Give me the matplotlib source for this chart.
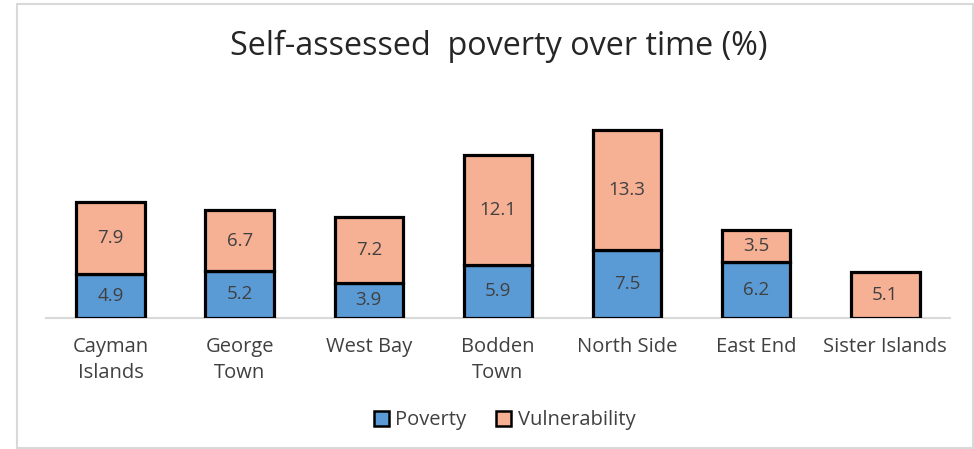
import matplotlib
matplotlib.use("Agg")
import matplotlib.pyplot as plt
from matplotlib.patches import Rectangle, Patch
import numpy as np

plt.rcParams['font.family'] = ['Open Sans', 'DejaVu Sans']

regions = ['Cayman\nIslands', 'George\nTown', 'West Bay', 'Bodden\nTown',
           'North Side', 'East End', 'Sister Islands']
poverty = [4.9, 5.2, 3.9, 5.9, 7.5, 6.2, 0.0]
vulnerability = [7.9, 6.7, 7.2, 12.1, 13.3, 3.5, 5.1]

blue = '#5b9bd5'
orange = '#f6b093'
text_col = '#404040'

fig = plt.figure(figsize=(9.74, 4.49), dpi=100)
ax = fig.add_axes([0.0472, 0.2918, 0.928, 0.5045])

x = np.arange(len(regions))
w = 0.53
ax.bar(x, poverty, w, color=blue, edgecolor='black', linewidth=2.3, zorder=3)
ax.bar(x, vulnerability, w, bottom=poverty, color=orange, edgecolor='black',
       linewidth=2.3, zorder=3)

# value labels
for i in range(len(x)):
    if poverty[i] > 0:
        ax.text(x[i], poverty[i] / 2, f'{poverty[i]:.1f}', ha='center', va='center',
                fontsize=13.5, color=text_col, zorder=4)
    ax.text(x[i], poverty[i] + vulnerability[i] / 2, f'{vulnerability[i]:.1f}',
            ha='center', va='center', fontsize=13.5, color=text_col, zorder=4)

ax.set_xlim(-0.5, len(x) - 0.5)
ax.set_ylim(0, 25)
ax.set_yticks([])
ax.set_xticks(x)
ax.set_xticklabels(regions, fontsize=14.5, color=text_col, linespacing=1.35)
ax.tick_params(axis='x', length=0, pad=14)
for s in ['top', 'right', 'left']:
    ax.spines[s].set_visible(False)
ax.spines['bottom'].set_color('#d9d9d9')
ax.spines['bottom'].set_linewidth(1.5)

fig.text(0.512, 0.896, 'Self-assessed  poverty over time (%)', ha='center', va='center',
         fontsize=23.3, color='#262626')

handles = [Patch(facecolor=blue, edgecolor='black', linewidth=1.8),
           Patch(facecolor=orange, edgecolor='black', linewidth=1.8)]
fig.legend(handles, ['Poverty', 'Vulnerability'], loc='center', ncol=2,
           bbox_to_anchor=(0.518, 0.064), frameon=False, fontsize=14.5,
           handlelength=0.75, handleheight=0.75, handletextpad=0.3, columnspacing=1.5,
           labelcolor=text_col)

# outer frame
fig.patches.append(Rectangle((17 / 974, 1 / 449), 956 / 974, 444 / 449,
                             transform=fig.transFigure, fill=False,
                             edgecolor='#d9d9d9', linewidth=1.5))

fig.savefig('out.png', dpi=100)
